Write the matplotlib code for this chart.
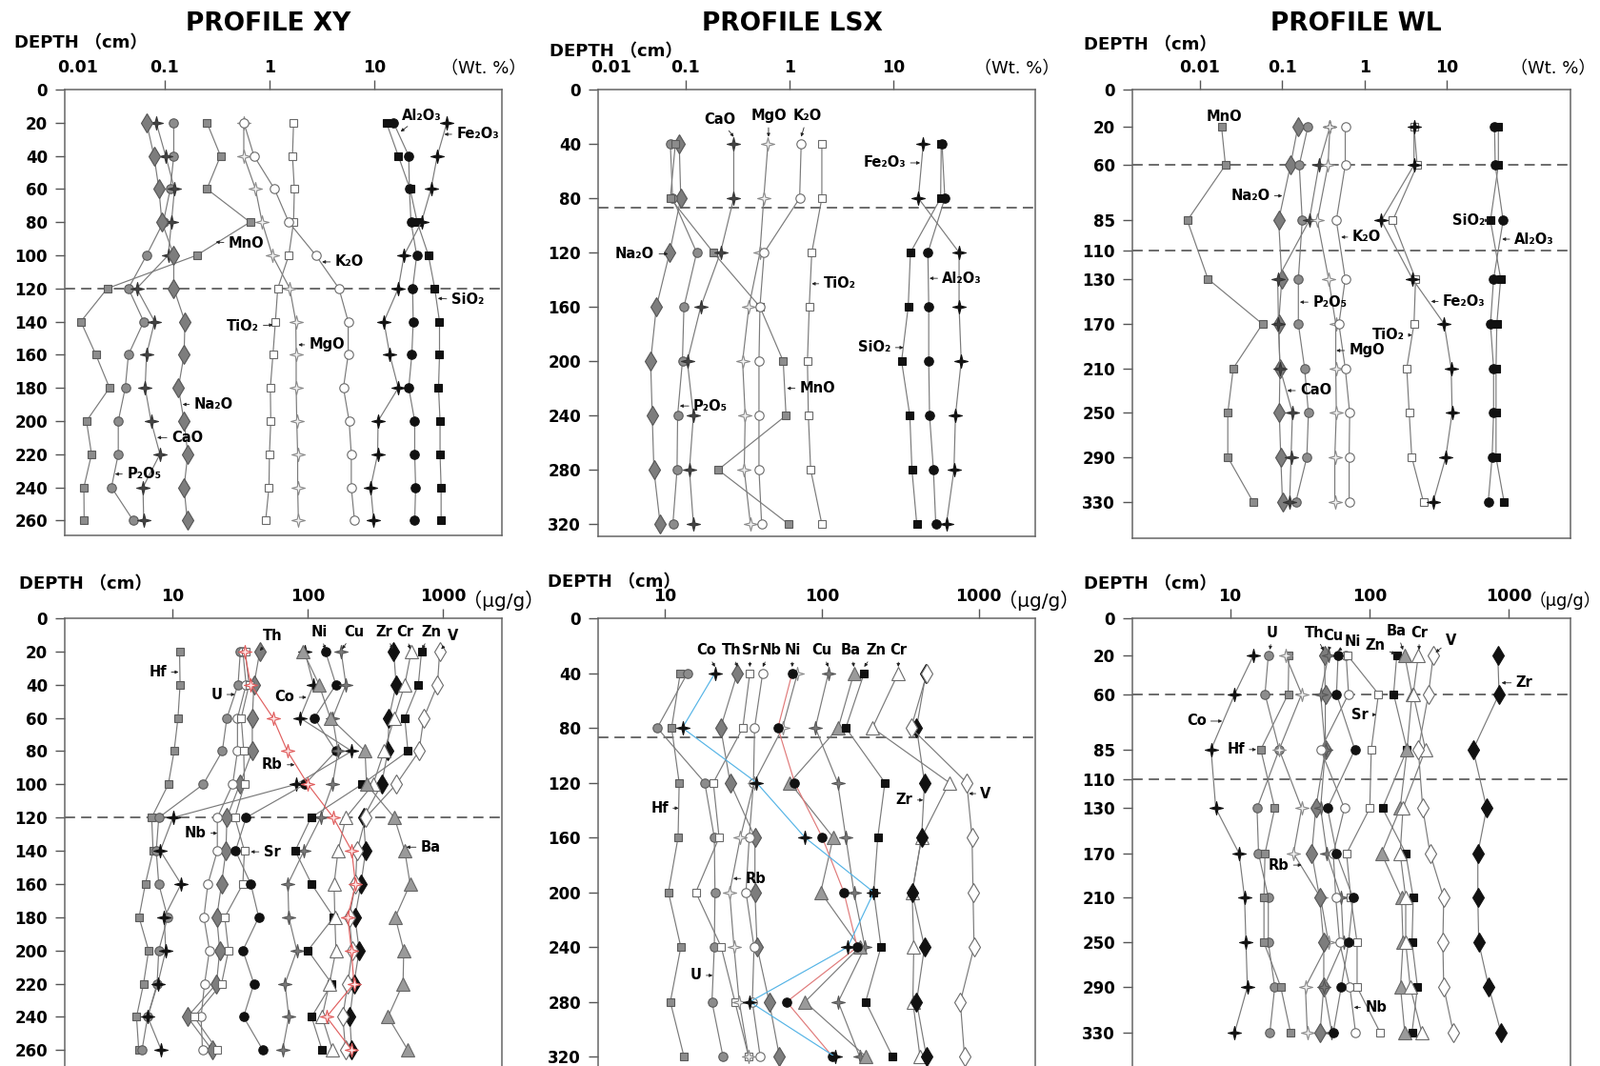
import numpy as np
import matplotlib
matplotlib.use('Agg')
import matplotlib.pyplot as plt
from matplotlib.path import Path
from matplotlib import transforms
from matplotlib.ticker import NullLocator

plt.rcParams['font.family'] = ['DejaVu Sans', 'Noto Sans CJK SC']
plt.rcParams['font.weight'] = 'bold'

# ---------------- data ----------------
XY_DEPTH = [20, 40, 60, 80, 100, 120, 140, 160, 180, 200, 220, 240, 260]
LSX_DEPTH = [40, 80, 120, 160, 200, 240, 280, 320]
WL_DEPTH = [20, 60, 85, 130, 170, 210, 250, 290, 330]
XY_BOUND = [120]
LSX_BOUND = [87]
WL_BOUND = [60, 110]

# major elements, Wt.%
XY_MnO = [0.253, 0.341, 0.253, 0.653, 0.202, 0.0283, 0.0158, 0.022, 0.0297, 0.0179, 0.02, 0.0169, 0.017]
XY_P2O5 = [0.122, 0.122, 0.113, 0.097, 0.067, 0.045, 0.063, 0.045, 0.042, 0.036, 0.036, 0.031, 0.05]
XY_CaO = [0.083, 0.102, 0.124, 0.116, 0.108, 0.054, 0.080, 0.067, 0.065, 0.074, 0.090, 0.062, 0.063]
XY_Na2O = [0.067, 0.079, 0.088, 0.094, 0.122, 0.122, 0.156, 0.153, 0.135, 0.153, 0.166, 0.153, 0.164]
XY_MgO = [0.569, 0.569, 0.736, 0.851, 1.065, 1.563, 1.786, 1.80, 1.80, 1.824, 1.86, 1.86, 1.89]
XY_TiO2 = [1.70, 1.66, 1.73, 1.70, 1.53, 1.20, 1.14, 1.08, 1.02, 1.03, 1.00, 0.99, 0.92]
XY_K2O = [0.57, 0.711, 1.117, 1.53, 2.77, 4.61, 5.65, 5.65, 5.09, 5.77, 6.05, 6.05, 6.49]
XY_Al2O3 = [15.3, 21.4, 21.7, 22.5, 25.5, 23.3, 23.6, 22.9, 21.4, 24.4, 24.4, 24.9, 24.4]
XY_SiO2 = [13.1, 17.0, 22.0, 25.8, 33.0, 37.9, 42.1, 42.1, 41.2, 42.6, 42.6, 43.6, 43.6]
XY_Fe2O3 = [49.5, 40.1, 34.9, 28.3, 19.3, 17.0, 12.4, 14.1, 17.0, 10.9, 10.8, 9.25, 9.9]

LSX_Na2O = [0.0869, 0.090, 0.0703, 0.0524, 0.0461, 0.0478, 0.0496, 0.057]
LSX_P2O5 = [0.0714, 0.075, 0.128, 0.0965, 0.0933, 0.0839, 0.0828, 0.0755]
LSX_MnO = [0.0798, 0.0714, 0.185, 0.52, 0.871, 0.927, 0.206, 0.98]
LSX_CaO = [0.291, 0.291, 0.217, 0.14, 0.104, 0.119, 0.109, 0.119]
LSX_MgO = [0.621, 0.566, 0.52, 0.407, 0.354, 0.375, 0.367, 0.421]
LSX_K2O = [1.297, 1.253, 0.571, 0.52, 0.509, 0.509, 0.509, 0.54]
LSX_TiO2 = [2.05, 2.05, 1.64, 1.55, 1.49, 1.52, 1.60, 2.05]
LSX_Fe2O3 = [19.4, 17.4, 42.9, 42.9, 45.0, 39.6, 38.3, 32.4]
LSX_SiO2 = [28.9, 28.5, 14.6, 13.9, 12.0, 14.4, 15.1, 16.8]
LSX_Al2O3 = [29.4, 31.3, 21.5, 21.9, 21.9, 22.3, 24.3, 25.6]

WL_MnO = [0.0183, 0.0204, 0.00702, 0.0125, 0.0575, 0.0254, 0.0218, 0.0218, 0.0445]
WL_Na2O = [0.155, 0.126, 0.0904, 0.0988, 0.0904, 0.0938, 0.092, 0.096, 0.1007]
WL_P2O5 = [0.205, 0.161, 0.175, 0.157, 0.157, 0.187, 0.208, 0.199, 0.146]
WL_CaO = [0.38, 0.279, 0.213, 0.088, 0.09, 0.094, 0.133, 0.128, 0.123]
WL_MgO = [0.38, 0.36, 0.267, 0.366, 0.447, 0.447, 0.454, 0.435, 0.435]
WL_K2O = [0.583, 0.583, 0.454, 0.583, 0.488, 0.583, 0.66, 0.65, 0.65]
WL_TiO2 = [3.99, 4.36, 2.2, 4.17, 3.99, 3.26, 3.49, 3.75, 5.21]
WL_Fe2O3 = [3.99, 3.99, 1.6, 3.82, 9.29, 11.3, 11.6, 9.7, 6.8]
WL_SiO2 = [42.3, 42.3, 33.9, 45.1, 40.5, 39.6, 39.6, 39.6, 49.7]
WL_Al2O3 = [38.0, 38.7, 48.3, 37.0, 33.9, 37.0, 37.0, 35.5, 31.8]

# trace elements, ug/g
XYt_Hf = [11.3, 11.4, 11.0, 10.3, 9.33, 7.03, 7.2, 6.31, 5.67, 6.67, 6.12, 5.43, 5.64]
XYt_U = [31.8, 30.6, 25.3, 23.4, 16.9, 7.93, 7.6, 7.93, 9.22, 7.93, 7.71, 6.56, 5.96]
XYt_Th = [44.3, 40.1, 39.0, 39.0, 31.5, 25.3, 24.9, 23.1, 21.3, 22.4, 21.2, 12.9, 19.7]
XYt_Nb = [33.2, 35.1, 30.3, 30.3, 27.9, 21.5, 21.5, 18.3, 17.1, 18.8, 17.3, 16.3, 16.7]
XYt_Sr = [34.6, 36.9, 32.3, 33.7, 34.1, 29.0, 34.1, 33.2, 24.4, 26.0, 23.1, 14.5, 21.5]
XYt_Co = [95.3, 110.7, 87.9, 212, 81.9, 10.1, 8.14, 11.6, 8.7, 8.93, 7.8, 6.56, 8.28]
XYt_Ni = [135.5, 162, 112, 162, 95.3, 35.1, 29.3, 38.0, 43.5, 33.2, 40.1, 33.6, 46.7]
XYt_Cu = [177, 192, 153, 168, 153, 125, 94, 71.5, 72.6, 83.2, 68.1, 72.6, 65.3]
XYt_Zn = [696, 659, 523, 552, 252, 106, 80.9, 107, 156, 100.5, 151, 107, 128]
XYt_Zr = [433, 452, 399, 393, 352, 259, 269, 248, 224, 241, 220, 205, 212]
XYt_Cr = [584, 523, 438, 368, 305, 192, 168, 157, 159, 162, 145, 128, 153]
XYt_V = [948, 913, 723, 667, 452, 269, 232, 226, 203, 214, 198, 182, 191]
XYt_Ba = [92.7, 121.6, 147, 266, 273, 438, 523, 573, 445, 514, 508, 393, 552]
XYt_Rb = [34.1, 38.0, 55.5, 70.8, 100.5, 155, 212, 226, 198, 211, 220, 138, 212]

LSXt_Hf = [12.5, 11.0, 12.3, 12.1, 10.5, 12.6, 10.8, 13.2]
LSXt_U = [13.9, 8.91, 17.9, 20.6, 20.8, 20.6, 19.9, 23.4]
LSXt_Th = [28.9, 22.6, 26.0, 37.4, 37.4, 38.6, 46.1, 53.6]
LSXt_Sr = [34.7, 31.3, 20.3, 22.1, 15.7, 22.8, 27.9, 34.1]
LSXt_Nb = [41.9, 37.2, 36.6, 34.4, 32.8, 36.9, 36.0, 40.4]
LSXt_Rb = [69.9, 56.1, 36.9, 30.2, 25.8, 27.5, 29.7, 34.1]
LSXt_Cu = [110, 90.8, 126, 142, 160, 188, 127, 174]
LSXt_Ba = [160, 127, 62.4, 118, 98.2, 174, 77.9, 191]
LSXt_Zn = [186, 142, 252, 227, 214, 238, 190, 282]
LSXt_Cr = [307, 210, 649, 432, 376, 385, 380, 422]
LSXt_Zr = [461, 401, 451, 432, 376, 451, 401, 464]
LSXt_V = [468, 370, 838, 906, 919, 933, 763, 811]
LSXt_Ni = [64.6, 52.4, 67.0, 100.5, 138, 168, 59.6, 117]
LSXt_Co = [20.8, 12.9, 38.3, 77.9, 214, 146, 34.7, 121]

WLt_Co = [14.7, 10.8, 7.3, 7.89, 11.6, 12.7, 13.0, 13.3, 10.8]
WLt_U = [18.8, 17.8, 22.5, 15.6, 16.0, 18.8, 18.8, 20.9, 19.3]
WLt_Hf = [26.4, 26.1, 16.6, 20.9, 17.8, 17.5, 17.5, 23.1, 27.1]
WLt_Rb = [25.0, 32.6, 22.5, 32.6, 28.5, 44.6, 50.8, 34.7, 35.8]
WLt_Th = [47.5, 48.2, 48.2, 41.2, 38.5, 43.9, 47.0, 47.0, 44.2]
WLt_Cu = [50.8, 44.6, 48.2, 44.6, 49.5, 62.7, 65.0, 47.0, 53.6]
WLt_Ni = [59.5, 58.0, 78.5, 50.0, 58.0, 76.2, 70.8, 62.7, 55.0]
WLt_Nb = [68.0, 70.8, 44.6, 66.1, 55.0, 57.3, 61.1, 72.3, 79.4]
WLt_Sr = [69.7, 116, 103, 100.5, 68.5, 73.4, 81.5, 81.5, 119]
WLt_Zn = [157, 149, 186, 124, 182, 206, 202, 221, 202]
WLt_Ba = [179, 202, 186, 166, 122, 170, 174, 167, 179]
WLt_Cr = [224, 206, 252, 174, 166, 182, 182, 196, 237]
WLt_V = [287, 265, 224, 241, 272, 341, 336, 341, 399]
WLt_Zr = [833, 851, 554, 693, 599, 599, 608, 718, 877]

# ---------------- styles ----------------
STAR = Path([(0, 1), (0.2, 0.2), (1, 0), (0.2, -0.2), (0, -1), (-0.2, -0.2),
             (-1, 0), (-0.2, 0.2), (0, 1)],
            [Path.MOVETO] + [Path.LINETO] * 7 + [Path.CLOSEPOLY])
ST = {
    'gsq': dict(marker='s', ms=6.3, mfc='#8c8c8c', mec='#5a5a5a'),
    'gci': dict(marker='o', ms=6.8, mfc='#8c8c8c', mec='#5a5a5a'),
    'gdi': dict(marker='d', ms=10, mfc='#7d7d7d', mec='#555555'),
    'dst': dict(marker=STAR, ms=10, mfc='#444444', mec='#333333'),
    'lst': dict(marker=STAR, ms=10, mfc='#f2f2f2', mec='#8a8a8a'),
    'gst': dict(marker=STAR, ms=10, mfc='#7a7a7a', mec='#555555'),
    'bst': dict(marker=STAR, ms=10, mfc='#111111', mec='#111111'),
    'rst': dict(marker=STAR, ms=10, mfc='#fde8e8', mec='#e05a5a'),
    'oci': dict(marker='o', ms=6.8, mfc='white', mec='#6a6a6a'),
    'osq': dict(marker='s', ms=6.3, mfc='white', mec='#6a6a6a'),
    'bci': dict(marker='o', ms=6.8, mfc='#111111', mec='#111111'),
    'bsq': dict(marker='s', ms=6.3, mfc='#111111', mec='#111111'),
    'gtr': dict(marker='^', ms=9.5, mfc='#9a9a9a', mec='#666666'),
    'otr': dict(marker='^', ms=9.5, mfc='white', mec='#6a6a6a'),
    'bdi': dict(marker='d', ms=10, mfc='#111111', mec='#111111'),
    'odi': dict(marker='d', ms=10, mfc='white', mec='#6a6a6a'),
}
LINE = '#7a7a7a'

W, H = 1681, 1119
fig = plt.figure(figsize=(W / 100, H / 100), dpi=100)


def axpos(x0, x1, y0, y1):
    return [x0 / W, 1 - y1 / H, (x1 - x0) / W, (y1 - y0) / H]


def ftext(x, y, s, **kw):
    fig.text(x / W, 1 - y / H, s, **kw)


# piecewise depth scale used by profile WL
KD = [0, 20, 60, 85, 110, 130, 170, 210, 250, 290, 330, 400]
KY = [0, 35.7, 72.7, 126, 154.7, 182.3, 225.7, 268.3, 311.3, 354, 397.3, 473.1]


def fwd(d):
    return np.interp(d, KD, KY)


def inv(y):
    return np.interp(y, KY, KD)


def setup(ax, xlim, ylim, xticks, xlabels, yticks, wl=False):
    ax.set_xscale('log')
    if wl:
        ax.set_yscale('function', functions=(fwd, inv))
    ax.set_xlim(xlim)
    ax.set_ylim(ylim)
    ax.xaxis.tick_top()
    ax.set_xticks(xticks)
    ax.set_xticklabels(xlabels)
    ax.xaxis.set_minor_locator(NullLocator())
    ax.yaxis.set_minor_locator(NullLocator())
    ax.set_yticks(yticks)
    ax.set_yticklabels([str(v) for v in yticks])
    ax.tick_params(axis='x', direction='out', length=7, width=1, color='#555',
                   labelsize=12.5, pad=3)
    ax.tick_params(axis='y', direction='out', length=7, width=1, color='#555',
                   labelsize=12, pad=6)
    for s in ax.spines.values():
        s.set_color('#666')
        s.set_linewidth(1.1)


def draw(ax, depth, series, bounds):
    for b in bounds:
        ax.axhline(b, color='#606060', lw=1.3, ls=(0, (6, 3.5)), zorder=1)
    for vals, st, *lc in series:
        ax.plot(vals, depth, '-', color=lc[0] if lc else LINE, lw=0.85,
                mew=0.8, zorder=3, **ST[st])


def note(ax, s, tx, ty, ha='center', tip=None):
    if tip is None:
        ax.text(tx, ty, s, ha=ha, va='center', fontsize=10.5, zorder=5)
    else:
        ax.annotate(s, xy=tip, xytext=(tx, ty), ha=ha, va='center', fontsize=10.5,
                    zorder=5,
                    arrowprops=dict(arrowstyle='-|>', color='#222', lw=0.6,
                                    mutation_scale=5, shrinkA=1.5, shrinkB=0))


def small_001(ax, xfrac):
    tr = transforms.offset_copy(ax.transAxes, fig=fig, x=0, y=10.2, units='points')
    ax.text(xfrac, 1, '0.01', transform=tr, ha='center', va='bottom', fontsize=12.5)


# ---------------- top row: major elements ----------------
ax = fig.add_axes(axpos(68, 527, 94, 562))
setup(ax, (0.0111, 166), (269, 0), [0.1, 1, 10], ['0.1', '1', '10'],
      list(range(0, 261, 20)))
small_001(ax, 0.03)
draw(ax, XY_DEPTH, [(XY_MnO, 'gsq'), (XY_P2O5, 'gci'), (XY_CaO, 'dst'),
                    (XY_Na2O, 'gdi'), (XY_MgO, 'lst'), (XY_TiO2, 'osq'),
                    (XY_K2O, 'oci'), (XY_Al2O3, 'bci'), (XY_SiO2, 'bsq'),
                    (XY_Fe2O3, 'bst')], XY_BOUND)
note(ax, 'MnO', 0.406, 93, 'left', (0.307, 92))
note(ax, 'TiO₂', 0.79, 143, 'right', (1.08, 142))
note(ax, 'Na₂O', 0.19, 190, 'left', (0.148, 190))
note(ax, 'CaO', 0.116, 210, 'left', (0.0846, 210))
note(ax, 'P₂O₅', 0.0435, 232, 'left', (0.0335, 232))
note(ax, 'K₂O', 4.22, 104, 'left', (3.18, 104))
note(ax, 'MgO', 2.4, 154, 'left', (1.89, 154))
note(ax, 'SiO₂', 54.5, 127, 'left', (40.6, 126))
note(ax, 'Fe₂O₃', 61, 27, 'left', (46.8, 27))
note(ax, 'Al₂O₃', 28.6, 15.6, 'center', (17.9, 25.4))

ax = fig.add_axes(axpos(628, 1087, 94, 563))
setup(ax, (0.0144, 232), (329, 0), [0.1, 1, 10], ['0.1', '1', '10'],
      list(range(0, 321, 40)))
small_001(ax, 0.03)
draw(ax, LSX_DEPTH, [(LSX_Na2O, 'gdi'), (LSX_P2O5, 'gci'), (LSX_MnO, 'gsq'),
                     (LSX_CaO, 'dst'), (LSX_MgO, 'lst'), (LSX_K2O, 'oci'),
                     (LSX_TiO2, 'osq'), (LSX_Fe2O3, 'bst'), (LSX_SiO2, 'bsq'),
                     (LSX_Al2O3, 'bci')], LSX_BOUND)
note(ax, 'CaO', 0.213, 22, 'center', (0.291, 34.8))
note(ax, 'MgO', 0.629, 19.4, 'center', (0.629, 34.8))
note(ax, 'K₂O', 1.49, 19.4, 'center', (1.297, 34.8))
note(ax, 'Na₂O', 0.0502, 121, 'right', (0.068, 121))
note(ax, 'P₂O₅', 0.119, 233, 'left', (0.088, 233))
note(ax, 'MnO', 1.253, 220, 'left', (0.946, 220))
note(ax, 'TiO₂', 2.12, 143, 'left', (1.64, 143))
note(ax, 'Fe₂O₃', 13.2, 54, 'right', (18.1, 54))
note(ax, 'Al₂O₃', 29.5, 139, 'left', (22.3, 139))
note(ax, 'SiO₂', 9.46, 190, 'right', (12.5, 190))

ax = fig.add_axes(axpos(1189, 1649, 94, 565))
setup(ax, (0.00151, 318), (362, 0), [0.01, 0.1, 1, 10], ['0.01', '0.1', '1', '10'],
      [0, 20, 60, 85, 110, 130, 170, 210, 250, 290, 330], wl=True)
draw(ax, WL_DEPTH, [(WL_MnO, 'gsq'), (WL_Na2O, 'gdi'), (WL_P2O5, 'gci'),
                    (WL_CaO, 'dst'), (WL_MgO, 'lst'), (WL_K2O, 'oci'),
                    (WL_TiO2, 'osq'), (WL_Fe2O3, 'bst'), (WL_SiO2, 'bsq'),
                    (WL_Al2O3, 'bci')], WL_BOUND)
note(ax, 'MnO', 0.0195, 14.4)
note(ax, 'Na₂O', 0.0706, 73.9, 'right', (0.1, 73.9))
note(ax, 'P₂O₅', 0.234, 150.6, 'left', (0.164, 150.6))
note(ax, 'CaO', 0.164, 230, 'left', (0.115, 230))
note(ax, 'K₂O', 0.71, 99, 'left', (0.52, 99))
note(ax, 'MgO', 0.65, 194, 'left', (0.454, 194))
note(ax, 'TiO₂', 3.07, 180, 'right', (3.78, 180))
note(ax, 'Fe₂O₃', 8.93, 150, 'left', (6.43, 150))
note(ax, 'SiO₂', 29.1, 85, 'right', (32.4, 85))
note(ax, 'Al₂O₃', 66, 100.7, 'left', (47, 100.7))

# ---------------- bottom row: trace elements ----------------
ax = fig.add_axes(axpos(68, 527, 649, 1125))
setup(ax, (1.6, 2735), (273, 0), [10, 100, 1000], ['10', '100', '1000'],
      list(range(0, 261, 20)))
draw(ax, XY_DEPTH, [(XYt_Hf, 'gsq'), (XYt_U, 'gci'), (XYt_Th, 'gdi'),
                    (XYt_Nb, 'oci'), (XYt_Sr, 'osq'), (XYt_Co, 'bst'),
                    (XYt_Ni, 'bci'), (XYt_Cu, 'gst'), (XYt_Zn, 'bsq'),
                    (XYt_Zr, 'bdi'), (XYt_Cr, 'otr'), (XYt_V, 'odi'),
                    (XYt_Ba, 'gtr'), (XYt_Rb, 'rst', '#e06060')], XY_BOUND)
note(ax, 'Hf', 9.08, 32.4, 'right', (11.1, 32.4))
note(ax, 'U', 23.4, 45.9, 'right', (29, 45.9))
note(ax, 'Th', 55.5, 10.8, 'center', (44.3, 19.6))
note(ax, 'Co', 80.2, 47.6, 'right', (98, 47.6))
note(ax, 'Rb', 65.3, 88.2, 'right', (80.2, 88.2))
note(ax, 'Ni', 122, 8.4, 'center', (135.5, 18.6))
note(ax, 'Cu', 220, 8.4, 'center', (180, 18.6))
note(ax, 'Zr', 368, 8.4, 'center', (428, 18.6))
note(ax, 'Cr', 528, 8.4, 'center', (573, 18.6))
note(ax, 'Zn', 818, 8.4, 'center', (703, 18.6))
note(ax, 'V', 1194, 10.8, 'center', (973, 18.6))
note(ax, 'Nb', 17.8, 129.4, 'right', (21.5, 129.4))
note(ax, 'Sr', 47.2, 140.6, 'left', (38, 140.6))
note(ax, 'Ba', 685, 137.8, 'left', (537, 137.8))

ax = fig.add_axes(axpos(628, 1087, 649, 1125))
setup(ax, (3.74, 2291), (331, 0), [10, 100, 1000], ['10', '100', '1000'],
      list(range(0, 321, 40)))
draw(ax, LSX_DEPTH, [(LSXt_Hf, 'gsq'), (LSXt_U, 'gci'), (LSXt_Th, 'gdi'),
                     (LSXt_Sr, 'osq'), (LSXt_Nb, 'oci'), (LSXt_Rb, 'lst'),
                     (LSXt_Cu, 'gst'), (LSXt_Ba, 'gtr'), (LSXt_Zn, 'bsq'),
                     (LSXt_Cr, 'otr'), (LSXt_Zr, 'bdi'), (LSXt_V, 'odi'),
                     (LSXt_Ni, 'bci', '#e07a7a'), (LSXt_Co, 'bst', '#55b4e6')],
     LSX_BOUND)
for s, tx, tip in [('Co', 18.2, 20.8), ('Th', 26.6, 28.9), ('Sr', 34.9, 34.7),
                   ('Nb', 47.2, 41.9), ('Ni', 65.2, 64.6), ('Cu', 99.1, 110),
                   ('Ba', 153, 160), ('Zn', 220, 186), ('Cr', 307, 307)]:
    note(ax, s, tx, 23.5, 'center', (tip, 35.5))
note(ax, 'Hf', 10.5, 138.6, 'right', (12.2, 138.6))
note(ax, 'Rb', 32.5, 190, 'left', (27.2, 190))
note(ax, 'U', 17.1, 260.7, 'right', (20.1, 260.7))
note(ax, 'Zr', 380, 132.7, 'right', (442, 132.7))
note(ax, 'V', 1024, 128, 'left', (865, 128))

ax = fig.add_axes(axpos(1189, 1649, 649, 1125))
setup(ax, (1.99, 2768), (365, 0), [10, 100, 1000], ['10', '100', '1000'],
      [0, 20, 60, 85, 110, 130, 170, 210, 250, 290, 330], wl=True)
draw(ax, WL_DEPTH, [(WLt_Co, 'bst'), (WLt_U, 'gci'), (WLt_Hf, 'gsq'),
                    (WLt_Rb, 'lst'), (WLt_Th, 'gdi'), (WLt_Cu, 'gst'),
                    (WLt_Nb, 'oci'), (WLt_Sr, 'osq'), (WLt_Ni, 'bci'),
                    (WLt_Zn, 'bsq'), (WLt_Ba, 'gtr'), (WLt_Cr, 'otr'),
                    (WLt_V, 'odi'), (WLt_Zr, 'bdi')], WL_BOUND)
note(ax, 'U', 20.1, 7.8, 'center', (19.3, 16.9))
note(ax, 'Th', 40.2, 7.8, 'center', (47, 17.4))
note(ax, 'Cu', 55, 9.6, 'center', (50.8, 17.4))
note(ax, 'Ni', 76, 12.5, 'center', (59.5, 17.4))
note(ax, 'Zn', 110, 14.8, 'center', (153, 19.2))
note(ax, 'Ba', 157, 7, 'center', (174, 17))
note(ax, 'Cr', 227, 7.8, 'center', (227, 17))
note(ax, 'V', 383, 11.8, 'center', (298, 18.4))
note(ax, 'Zr', 1122, 48.4, 'left', (887, 48.4))
note(ax, 'Sr', 98, 69.3, 'right', (112, 69.3))
note(ax, 'Nb', 92.9, 308, 'left', (77.4, 308))
note(ax, 'Co', 6.74, 72.2, 'right', (8.77, 72.2))
note(ax, 'Hf', 12.7, 85, 'right', (15.4, 85))
note(ax, 'Rb', 26.4, 180.5, 'right', (32.6, 180.5))

# ---------------- titles and axis captions ----------------
for x, s in [(282, 'PROFILE XY'), (832, 'PROFILE LSX'), (1424, 'PROFILE WL')]:
    ftext(x, 25, s, ha='center', va='center', fontsize=19)
for x, y in [(15, 45), (577, 54), (1138, 47), (20, 613), (575, 611), (1138, 613)]:
    ftext(x, y, 'DEPTH （cm）', ha='left', va='center', fontsize=13)
for x in [463, 1023, 1586]:
    ftext(x, 72, '（Wt. %）', ha='left', va='center', fontsize=13,
          fontweight='normal')
for x, fs in [(486, 14.5), (1048, 14.5), (1606, 12.8)]:
    ftext(x, 630, '（μg/g）', ha='left', va='center', fontsize=fs,
          fontweight='normal')

fig.savefig('out.png', dpi=100)
